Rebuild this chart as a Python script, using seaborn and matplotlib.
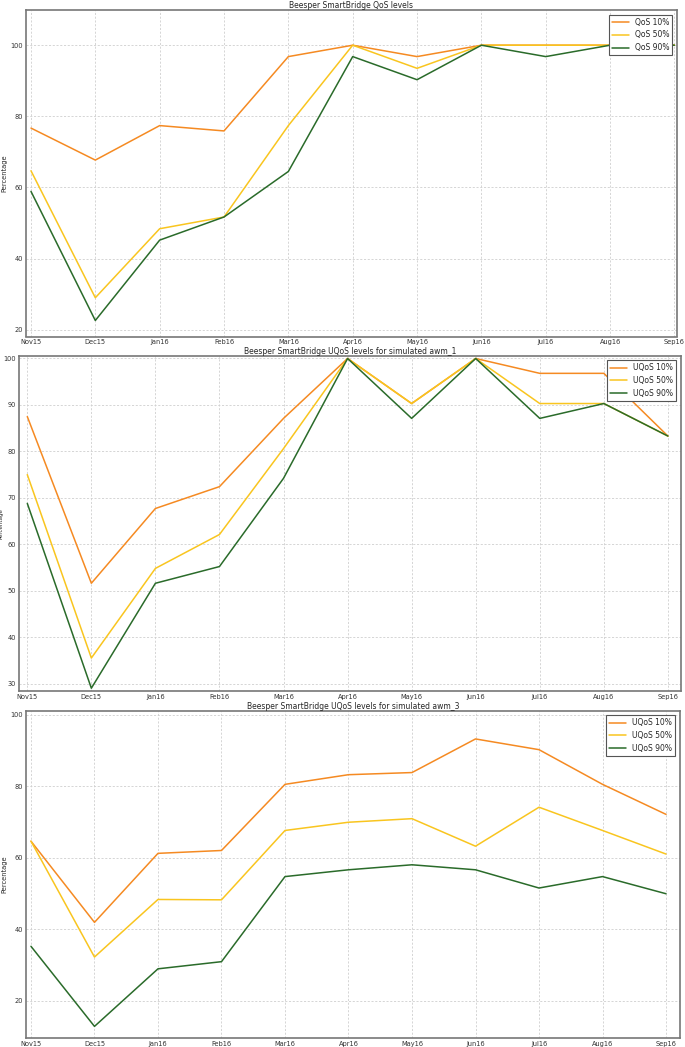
import pandas as pd
import matplotlib
matplotlib.use('Agg')
import matplotlib.pyplot as plt
import seaborn as sns

months = ['Nov15', 'Dec15', 'Jan16', 'Feb16', 'Mar16', 'Apr16',
          'May16', 'Jun16', 'Jul16', 'Aug16', 'Sep16']

# QoS levels (top panel)
qos_10 = [76.7, 67.7, 77.4, 75.9, 96.8, 100, 96.8, 100, 100, 100, 100]
qos_50 = [64.7, 29.0, 48.4, 51.7, 77.4, 100, 93.5, 100, 100, 100, 100]
qos_90 = [58.9, 22.6, 45.2, 51.7, 64.5, 96.8, 90.3, 100, 96.8, 100, 100]

# UQoS awm_1 (middle panel)
awm1_10 = [87.5, 51.6, 67.7, 72.4, 87.1, 100, 90.3, 100, 96.8, 96.8, 83.3]
awm1_50 = [75.0, 35.5, 54.8, 62.1, 80.6, 100, 90.3, 100, 90.3, 90.3, 83.3]
awm1_90 = [68.8, 29.0, 51.6, 55.2, 74.2, 100, 87.1, 100, 87.1, 90.3, 83.3]

# UQoS awm_3 (bottom panel)
awm3_10 = [64.7, 42.0, 61.3, 62.1, 80.6, 83.3, 83.9, 93.3, 90.3, 80.6, 72.2]
awm3_50 = [64.7, 32.3, 48.4, 48.3, 67.7, 70.0, 71.0, 63.3, 74.2, 67.7, 61.1]
awm3_90 = [35.3, 12.9, 29.0, 31.0, 54.8, 56.7, 58.1, 56.7, 51.6, 54.8, 50.0]

colors = ['#F58A22', '#F9C51F', '#2A6B2A']

sns.set_style('whitegrid')
plt.rcParams['font.family'] = ['DejaVu Sans']

W, H = 685, 1047
fig = plt.figure(figsize=(W / 100, H / 100), dpi=100)


def make_df(series, names):
    rows = []
    for vals, name in zip(series, names):
        for i, v in enumerate(vals):
            rows.append({'month': i, 'value': v, 'series': name})
    return pd.DataFrame(rows)


def draw_panel(box, series, names, title, ylim, xlim, yticks, ylabel_size, ylabel_x):
    l, t, r, b = box
    ax = fig.add_axes([l / W, 1 - b / H, (r - l) / W, (b - t) / H])
    df = make_df(series, names)
    sns.lineplot(data=df, x='month', y='value', hue='series', palette=colors,
                 linewidth=1.1, ax=ax)
    ax.set_xlim(*xlim)
    ax.set_ylim(*ylim)
    ax.set_xticks(range(len(months)))
    ax.set_xticklabels(months)
    ax.set_yticks(yticks)
    ax.tick_params(labelsize=4.8, direction='in', length=3, color='#555555',
                   pad=2, labelcolor='#333333')
    ax.grid(True, linestyle=(0, (2.5, 2)), color='#cfcfcf', linewidth=0.6)
    for s in ax.spines.values():
        s.set_color('#777777')
        s.set_linewidth(1.2)
    ax.set_title(title, fontsize=5.5, pad=1.5)
    ax.set_xlabel('')
    ax.set_ylabel('Percentage', fontsize=ylabel_size)
    ax.yaxis.set_label_coords((ylabel_x - l) / (r - l), 0.5)
    leg = ax.legend(loc='upper right', fontsize=5.5, fancybox=False,
                    framealpha=1, edgecolor='#555555', borderpad=0.4,
                    handlelength=2.2, borderaxespad=0.6)
    leg.get_frame().set_linewidth(0.8)
    for line in leg.get_lines():
        line.set_linewidth(1.1)
    return ax


draw_panel((25.7, 10, 677, 336.5), [qos_10, qos_50, qos_90],
           ['QoS 10%', 'QoS 50%', 'QoS 90%'],
           'Beesper SmartBridge QoS levels',
           (18.1, 109.9), (-0.082, 10.04), [20, 40, 60, 80, 100], 4.8, 7)

draw_panel((18.7, 355.7, 680.7, 691), [awm1_10, awm1_50, awm1_90],
           ['UQoS 10%', 'UQoS 50%', 'UQoS 90%'],
           'Beesper SmartBridge UQoS levels for simulated awm_1',
           (28.4, 100.6), (-0.134, 10.2), [30, 40, 50, 60, 70, 80, 90, 100], 4, 3.5)

draw_panel((25.7, 710.7, 680, 1038), [awm3_10, awm3_50, awm3_90],
           ['UQoS 10%', 'UQoS 50%', 'UQoS 90%'],
           'Beesper SmartBridge UQoS levels for simulated awm_3',
           (9.65, 101.2), (-0.083, 10.22), [20, 40, 60, 80, 100], 4.8, 7)

fig.savefig('out.png', dpi=100)
